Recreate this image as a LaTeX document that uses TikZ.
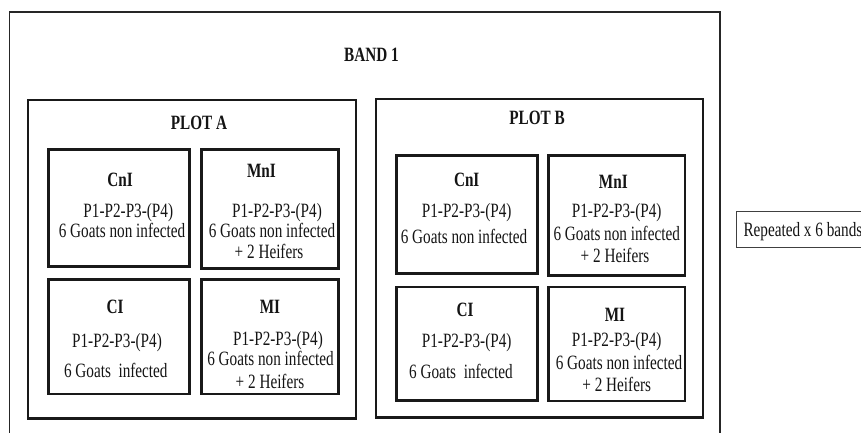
\documentclass[tikz,border=0pt]{standalone}
\usepackage{fontspec}
\setmainfont{Liberation Serif}[FakeStretch=0.75]
\begin{document}
\begin{tikzpicture}[x=1pt,y=-1pt,
  box/.style={draw=black!90, line width=2.1pt, inner sep=0pt, outer sep=0pt},
  band/.style={draw=black!85, line width=1.6pt, inner sep=0pt, outer sep=0pt},
  rep/.style={draw=black!75, line width=1pt, inner sep=0pt, outer sep=0pt},
  txt/.style={font=\fontsize{20.3}{22}\selectfont, anchor=base, inner sep=0pt, text=black!92},
  ttl/.style={font=\fontsize{20.3}{22}\selectfont\bfseries, anchor=base, inner sep=0pt, text=black!92}]
\useasboundingbox (0,0) rectangle (861,432);
\clip (0,0) rectangle (861,432);
\newcommand\pbox[6][box]{\node[#1, minimum width={(#5-#3)*1pt}, minimum height={(#6-#4)*1pt}] (#2) at ({(#3+#5)/2},{(#4+#6)/2}) {};}
% outer band and plots
\pbox[band]{band}{9.5}{12}{720}{450}
\pbox{plotA}{28}{100}{356}{418.5}
\pbox{plotB}{376}{99}{703}{417.5}
% plot A boxes
\pbox{cnia}{48.5}{149.5}{189.5}{266.5}
\pbox{mnia}{201.5}{149.5}{338.5}{268.5}
\pbox{cia}{48.5}{279.5}{189.5}{394}
\pbox{mia}{201.5}{279.5}{338.5}{394}
% plot B boxes
\pbox{cnib}{396.5}{155.5}{537.5}{273.5}
\pbox{mnib}{548.5}{155.5}{685}{275.5}
\pbox{cib}{396.5}{287}{537.5}{400.5}
\pbox{mib}{548.5}{287}{685}{401}
% repeated box
\pbox[rep]{repbox}{736}{211}{875}{247}
% titles
\node[ttl] (tband) at (371.5,61) {BAND 1};
\node[ttl] (tplotA) at (199,129) {PLOT A};
\node[ttl] (tplotB) at (537,124) {PLOT B};
% CnI A
\node[ttl] (cniaT) at (120,186) {CnI};
\node[txt] (cniaP) at (128.3,217) {P1-P2-P3-(P4)};
\node[txt] (cniaG) at (122,237.5) {6 Goats non infected};
% MnI A
\node[ttl] (mniaT) at (261.5,177.7) {MnI};
\node[txt] (mniaP) at (277,217.3) {P1-P2-P3-(P4)};
\node[txt] (mniaG) at (272,237) {6 Goats non infected};
\node[txt] (mniaH) at (269,258) {+ 2 Heifers};
% CI A
\node[ttl] (ciaT) at (115,313.3) {CI};
\node[txt] (ciaP) at (117,347.3) {P1-P2-P3-(P4)};
\node[txt] (ciaG) at (115.8,377.3) {6 Goats~ infected};
% MI A
\node[ttl] (miaT) at (270,313.3) {MI};
\node[txt] (miaP) at (278,345.8) {P1-P2-P3-(P4)};
\node[txt] (miaG) at (270.5,365.5) {6 Goats non infected};
\node[txt] (miaH) at (270,388.5) {+ 2 Heifers};
% CnI B
\node[ttl] (cnibT) at (466.7,186.7) {CnI};
\node[txt] (cnibP) at (466.7,217.7) {P1-P2-P3-(P4)};
\node[txt] (cnibG) at (464,243.3) {6 Goats non infected};
% MnI B
\node[ttl] (mnibT) at (613.3,188.3) {MnI};
\node[txt] (mnibP) at (616.7,217.3) {P1-P2-P3-(P4)};
\node[txt] (mnibG) at (616.7,240.3) {6 Goats non infected};
\node[txt] (mnibH) at (615,262) {+ 2 Heifers};
% CI B
\node[ttl] (cibT) at (465,316.3) {CI};
\node[txt] (cibP) at (466.7,347.3) {P1-P2-P3-(P4)};
\node[txt] (cibG) at (461,378) {6 Goats~ infected};
% MI B
\node[ttl] (mibT) at (615,321.3) {MI};
\node[txt] (mibP) at (616.7,346) {P1-P2-P3-(P4)};
\node[txt] (mibG) at (619,369.7) {6 Goats non infected};
\node[txt] (mibH) at (616.7,391.5) {+ 2 Heifers};
% repeated label
\node[txt, anchor=base west] (repT) at (743.3,236.7) {Repeated x 6 bands};
\end{tikzpicture}
\end{document}
